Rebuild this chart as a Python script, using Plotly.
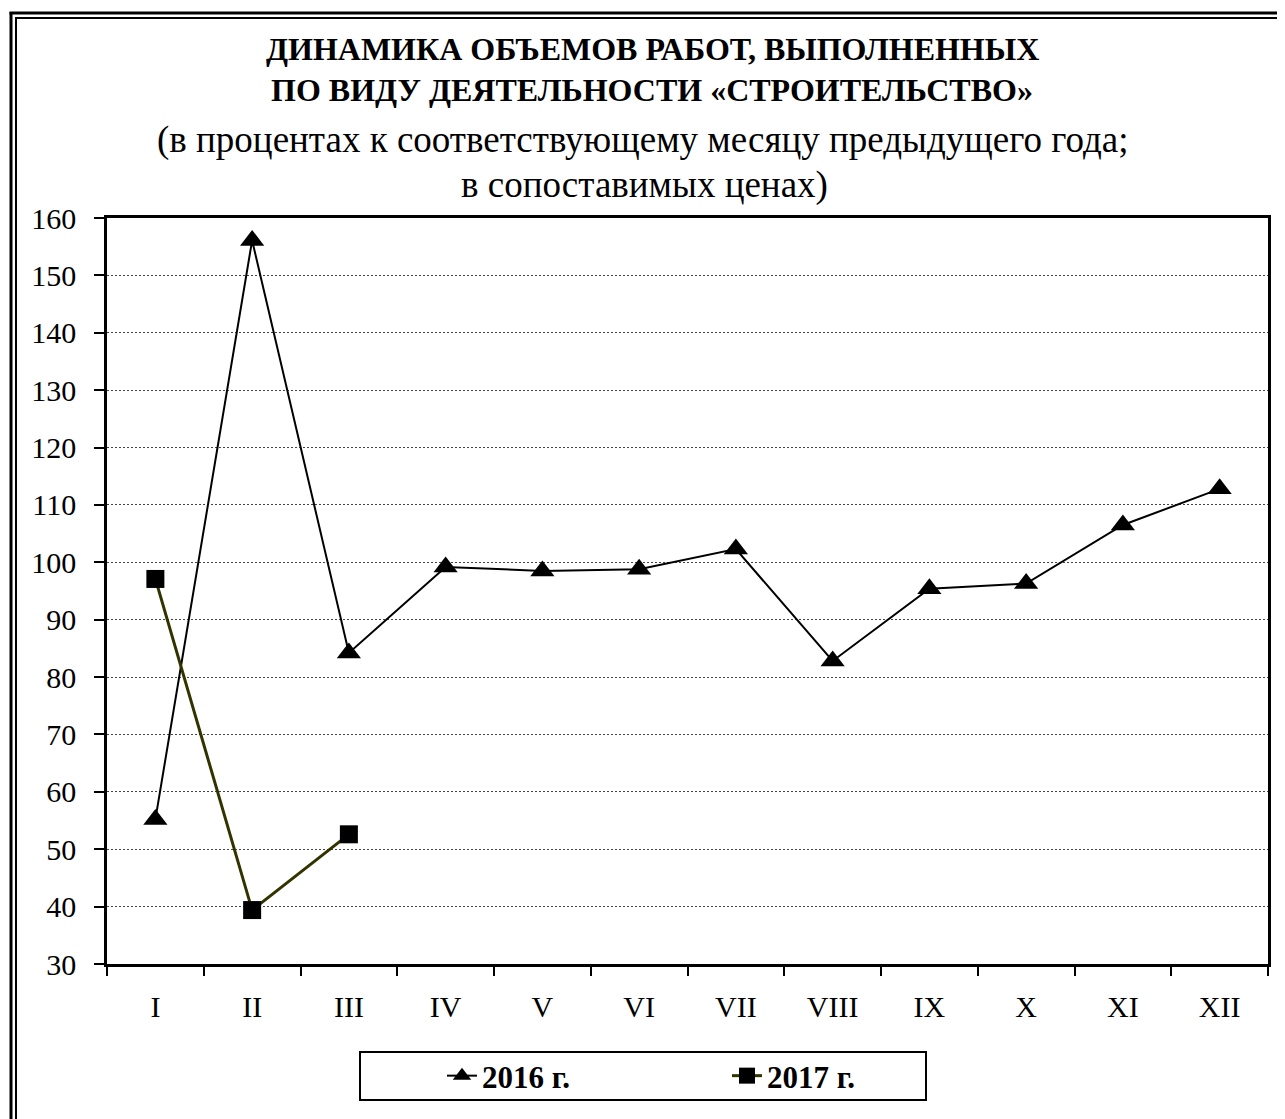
import plotly.graph_objects as go

months = ["I", "II", "III", "IV", "V", "VI", "VII", "VIII", "IX", "X", "XI", "XII"]
values_2016 = [55.2, 156.1, 84.2, 99.2, 98.5, 98.8, 102.3, 82.8, 95.4, 96.3, 106.5, 112.8]
months_2017 = ["I", "II", "III"]
values_2017 = [97.1, 39.4, 52.6]
y_ticks = list(range(30, 161, 10))

OFF = 8  # default page margin of the html body
W, H = 1285 - OFF, 1119 - OFF
# plot area in screen pixels
L, R, T, B = 107, 1268, 218, 964


def px(x):
    return (x - L) / (R - L)


def py(y):
    return (B - y) / (B - T)


FONT = "Liberation Serif"

fig = go.Figure()
fig.add_trace(go.Scatter(
    x=months, y=values_2016, name="2016 г.", mode="lines+markers",
    line=dict(color="black", width=2),
    marker=dict(symbol="triangle-up", size=21, color="black"),
))
fig.add_trace(go.Scatter(
    x=months_2017, y=values_2017, name="2017 г.", mode="lines+markers",
    line=dict(color="#333300", width=3),
    marker=dict(symbol="square", size=18, color="black"),
))

annotations = [
    dict(text="<b>ДИНАМИКА ОБЪЕМОВ РАБОТ, ВЫПОЛНЕННЫХ</b>", x=652, y=49, size=32),
    dict(text="<b>ПО ВИДУ ДЕЯТЕЛЬНОСТИ «СТРОИТЕЛЬСТВО»</b>", x=652, y=90, size=32),
    dict(text="(в процентах к соответствующему месяцу предыдущего года;", x=642, y=140, size=37),
    dict(text="в сопоставимых ценах)", x=644, y=185, size=37),
]
ann = [dict(text=a["text"], x=px(a["x"]), y=py(a["y"]), xref="paper", yref="paper",
            xanchor="center", yanchor="middle", showarrow=False,
            font=dict(family=FONT, size=a["size"], color="black")) for a in annotations]

shapes = [
    # page frame (double line, left and top)
    dict(type="line", xref="paper", yref="paper", x0=px(11), x1=px(11), y0=py(12), y1=py(1300),
         line=dict(color="black", width=3)),
    dict(type="line", xref="paper", yref="paper", x0=px(16), x1=px(16), y0=py(17.5), y1=py(1300),
         line=dict(color="black", width=2)),
    dict(type="line", xref="paper", yref="paper", x0=px(9.5), x1=px(1400), y0=py(13), y1=py(13),
         line=dict(color="black", width=3)),
    dict(type="line", xref="paper", yref="paper", x0=px(15), x1=px(1400), y0=py(18), y1=py(18),
         line=dict(color="black", width=2)),
    # legend box
    dict(type="rect", xref="paper", yref="paper", x0=px(360), x1=px(926), y0=py(1052), y1=py(1100),
         line=dict(color="black", width=2), fillcolor="rgba(0,0,0,0)"),
]

fig.update_layout(
    width=W, height=H,
    margin=dict(l=L - OFF, r=W - (R - OFF), t=T - OFF, b=H - (B - OFF), pad=0),
    paper_bgcolor="white", plot_bgcolor="white",
    font=dict(family=FONT, size=29, color="black"),
    showlegend=True,
    legend=dict(orientation="h", x=px(442), y=py(1076), xanchor="left", yanchor="middle",
                font=dict(family=FONT, size=31, color="black", weight="bold"),
                bgcolor="rgba(0,0,0,0)", borderwidth=0, entrywidth=240, entrywidthmode="pixels"),
    annotations=ann,
    shapes=shapes,
)
fig.update_xaxes(
    type="category", categoryorder="array", categoryarray=months,
    tickson="boundaries", ticks="outside", ticklen=9, tickwidth=2, tickcolor="black",
    showline=True, linecolor="black", linewidth=2.5, mirror=True,
    showgrid=False, zeroline=False, range=[-0.5, 11.5],
    tickfont=dict(family=FONT, size=30, color="black"), ticklabelstandoff=14,
)
fig.update_yaxes(
    range=[30, 160], tickvals=y_ticks, ticks="outside", ticklen=10, tickwidth=2, tickcolor="black",
    showline=True, linecolor="black", linewidth=2.5, mirror=True,
    showgrid=True, gridcolor="#444444", gridwidth=1, griddash="2px,2px", zeroline=False,
    tickfont=dict(family=FONT, size=30, color="black"), ticklabelstandoff=12,
)

fig.write_html("out.html")
